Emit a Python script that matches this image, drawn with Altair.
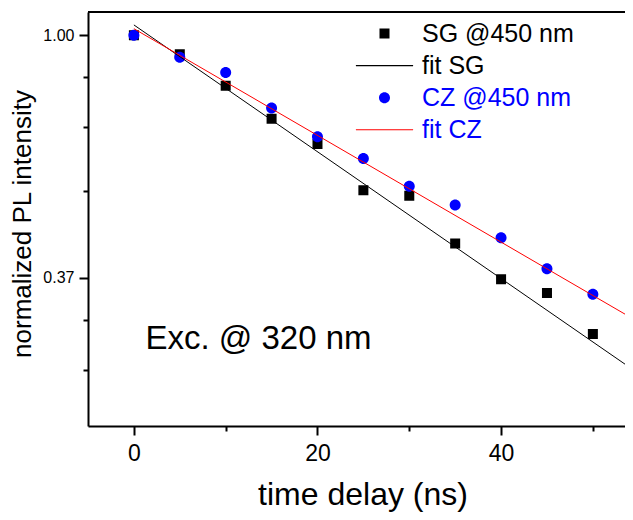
import math
import altair as alt
import pandas as pd

# ---- data ----
time_ns = [0, 5, 10, 15, 20, 25, 30, 35, 40, 45, 50]
sg_450 = [1.000, 0.924, 0.812, 0.709, 0.639, 0.528, 0.516, 0.424, 0.366, 0.346, 0.292]
cz_450 = [1.000, 0.913, 0.857, 0.741, 0.658, 0.602, 0.537, 0.497, 0.434, 0.382, 0.344]
fit_time = [0, 53.5]
fit_sg = [1.043, 0.258]
fit_cz = [1.027, 0.317]
series_names = ["SG @450 nm", "fit SG", "CZ @450 nm", "fit CZ"]
x_ticks = [0, 10, 20, 30, 40, 50]
x_labeled = [0, 20, 40]
y_ticks = [1.0, 0.84197, 0.68394, 0.52591, 0.36788, 0.30975, 0.25161]
y_labeled = [1.0, 0.36788]
x_title = "time delay (ns)"
y_title = "normalized PL intensity"
annotation = ["Exc. @ 320 nm"]

FONT = "Liberation Sans, Arial, sans-serif"
colors = ["#000000", "#000000", "#0000ff", "#ff0000"]
ph = "M-5.2,0L-5.2,0M5.2,0L5.2,0"
shapes = [
    ph + "M-0.91,-0.91H0.91V0.91H-0.91Z",
    "M-5.2,-0.1H5.2V0.1H-5.2Z",
    ph + "M1,0A1,1 0 1,1 -1,0A1,1 0 1,1 1,0Z",
    "M-5.2,-0.1H5.2V0.1H-5.2Z",
]

pts = pd.DataFrame({
    "t": time_ns + time_ns,
    "v": sg_450 + cz_450,
    "series": [series_names[0]] * len(time_ns) + [series_names[2]] * len(time_ns),
})
fits = pd.DataFrame({
    "t": fit_time + fit_time,
    "v": fit_sg + fit_cz,
    "series": [series_names[1]] * 2 + [series_names[3]] * 2,
})
ann = pd.DataFrame({"label": annotation})

W, H = 537, 414
xscale = alt.Scale(domain=[-5, 53.5], nice=False, zero=False)
yscale = alt.Scale(type="log", base=math.e, domain=[0.2, 1.1], nice=False)

x_major_test = f"indexof({x_labeled}, datum.value) >= 0"
y_major_test = f"indexof({y_labeled}, datum.value) >= 0"

x_axis = alt.Axis(
    values=x_ticks,
    labelExpr=f"{x_major_test} ? datum.label : ''",
    tickSize=9,
    tickDash={"condition": {"test": x_major_test, "value": [20, 1]}, "value": [5, 20]},
    tickWidth=2, tickColor="black", domainColor="black", domainWidth=2,
    labelFont=FONT, labelFontSize=23, labelColor="black", labelPadding=7,
    labelOverlap=False, grid=False,
    title=x_title, titleFont=FONT, titleFontSize=32, titleFontWeight="normal",
    titleColor="black", titleX=274.5, titleY=78, titleAlign="center",
    titleBaseline="alphabetic",
)
y_axis = alt.Axis(
    values=y_ticks,
    labelExpr=f"{y_major_test} ? format(datum.value, '.2f') : ''",
    tickSize=9,
    tickDash={"condition": {"test": y_major_test, "value": [20, 1]}, "value": [5, 20]},
    tickWidth=2, tickColor="black", domainColor="black", domainWidth=2,
    labelFont=FONT, labelFontSize=16, labelColor="black", labelPadding=5,
    labelOverlap=False, grid=False,
    title=y_title, titleFont=FONT, titleFontSize=26, titleFontWeight="normal",
    titleColor="black", titleX=-58, titleY=211.5, titleAngle=270,
    titleAlign="center", titleBaseline="alphabetic",
)

leg = alt.Legend(
    title=None, orient="none", legendX=284, legendY=9, padding=0,
    labelFont=FONT, labelFontSize=25, labelOffset=25, rowPadding=6.1,
    labelLimit=400, symbolSize=121, symbolStrokeWidth=0,
    labelColor={"expr": "indexof(datum.label, 'CZ') >= 0 ? '#0000ff' : '#000000'"},
)

points = alt.Chart(pts).mark_point(filled=True, size=121, opacity=1, strokeWidth=0).encode(
    x=alt.X("t:Q", scale=xscale, axis=x_axis),
    y=alt.Y("v:Q", scale=yscale, axis=y_axis),
    color=alt.Color("series:N", scale=alt.Scale(domain=series_names, range=colors), legend=leg),
    shape=alt.Shape("series:N", scale=alt.Scale(domain=series_names, range=shapes), legend=leg),
)

lines = alt.Chart(fits).mark_line(strokeWidth=1).encode(
    x=alt.X("t:Q", scale=xscale),
    y=alt.Y("v:Q", scale=yscale),
    color=alt.Color("series:N", scale=alt.Scale(domain=series_names, range=colors), legend=None),
)

# top frame line of the plot area
frame_top = alt.Chart(ann).mark_rule(color="black", strokeWidth=2).encode(
    x=alt.value(0), x2=alt.value(W), y=alt.value(0)
)

annot = alt.Chart(ann).mark_text(
    font=FONT, fontSize=33, align="left", baseline="alphabetic", color="black"
).encode(
    x=alt.value(57.5), y=alt.value(337), text="label:N"
)

chart = alt.layer(points, lines, frame_top, annot).properties(
    width=W, height=H,
    autosize=alt.AutoSizeParams(type="none"),
    padding={"left": 80, "top": 4, "right": 0, "bottom": 86},
).configure_view(strokeWidth=0)

chart.save("out.html", embed_options={"renderer": "svg", "actions": False})
